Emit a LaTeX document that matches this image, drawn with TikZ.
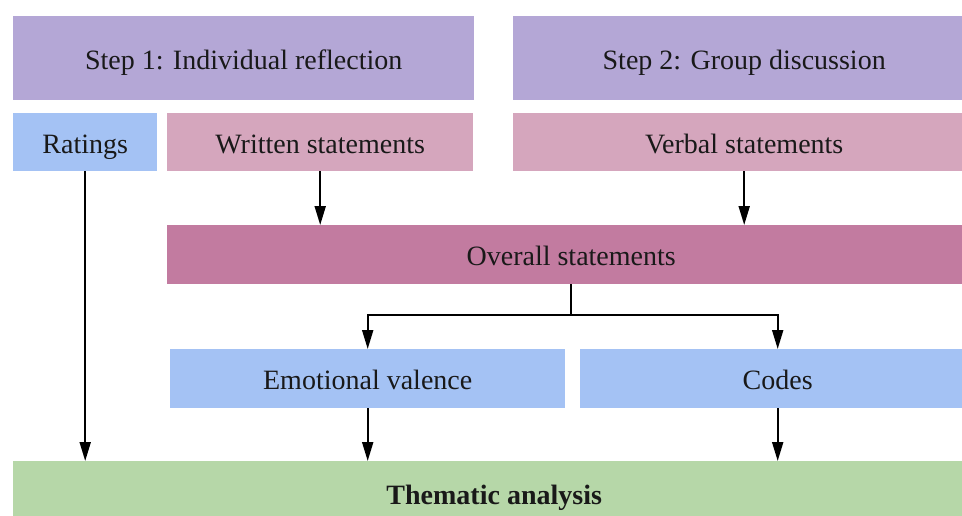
\documentclass[tikz,border=0pt]{standalone}
\usepackage{fontspec}
\setmainfont{Liberation Serif}
\usetikzlibrary{arrows.meta}
\definecolor{stepcol}{HTML}{B4A7D6}
\definecolor{stmtcol}{HTML}{D5A6BD}
\definecolor{overallcol}{HTML}{C27BA0}
\definecolor{bluecol}{HTML}{A4C2F4}
\definecolor{greencol}{HTML}{B6D7A8}
\begin{document}
\begin{tikzpicture}[x=1pt, y=-1pt,
    box/.style={rectangle, anchor=north west, inner sep=0pt,
      text height=22pt, text depth=0pt,
      font=\fontsize{28}{32}\selectfont, text=black!90},
    arr/.style={-{Triangle[width=11pt,length=19pt]}, line width=2pt}]
    \clip (0,0) rectangle (962,515);
    \fill[white] (0,0) rectangle (962,515);
    \node at (13,16) [box, fill=stepcol, minimum width=461pt, minimum height=84pt] (step1) {Step 1: Individual reflection};
    \node at (513,16) [box, fill=stepcol, minimum width=462pt, minimum height=84pt] (step2) {Step 2: Group discussion};
    \node at (13,113) [box, fill=bluecol, minimum width=144pt, minimum height=58pt] (ratings) {Ratings};
    \node at (167,113) [box, fill=stmtcol, minimum width=306pt, minimum height=58pt] (written) {Written statements};
    \node at (513,113) [box, fill=stmtcol, minimum width=462pt, minimum height=58pt] (verbal) {Verbal statements};
    \node at (167,225) [box, fill=overallcol, minimum width=808pt, minimum height=59pt] (overall) {Overall statements};
    \node at (170,349) [box, fill=bluecol, minimum width=395pt, minimum height=59pt] (valence) {Emotional valence};
    \node at (580,349) [box, fill=bluecol, minimum width=395pt, minimum height=59pt] (codes) {Codes};
    \node at (13,461) [box, fill=greencol, minimum width=962pt, minimum height=64pt] (thematic) {\bfseries Thematic analysis};
    \draw[arr] (ratings.south) -- (ratings.south |- thematic.north);
    \draw[arr] (written.south) -- (written.south |- overall.north);
    \draw[arr] (verbal.south) -- (verbal.south |- overall.north);
    \draw[line width=2pt] (overall.south) -- ++(0,31) coordinate (split);
    \draw[arr] (split) -| (valence.north);
    \draw[arr] (split) -| (codes.north);
    \draw[arr] (valence.south) -- (valence.south |- thematic.north);
    \draw[arr] (codes.south) -- (codes.south |- thematic.north);
\end{tikzpicture}
\end{document}
